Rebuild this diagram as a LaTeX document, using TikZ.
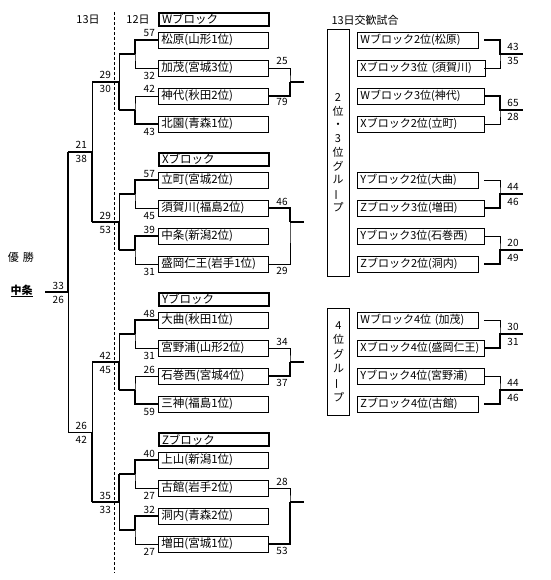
\documentclass[tikz,border=0pt]{standalone}
\usepackage{fontspec}
\setmainfont{Noto Sans CJK JP}
\usetikzlibrary{calc}
\tikzset{
  thinline/.style={line width=0.9pt},
  winline/.style={line width=2.8pt},
  dayline/.style={line width=0.8pt,dash pattern=on 3pt off 2pt},
  team/.style={draw,line width=0.9pt,anchor=west,minimum height=16pt,inner xsep=3pt,inner ysep=0pt,
    text width=104pt,align=left,font=\fontsize{11.5}{11.5}\selectfont},
  head/.style={team,line width=2pt,minimum height=13pt},
  matchbox/.style={team,text width=#1,font=\fontsize{11}{11}\selectfont},
  score/.style={anchor=base east,inner sep=0pt,font=\fontsize{10}{10}\selectfont},
  scoremid/.style={score,anchor=base},
  groupbox/.style={draw,line width=0.9pt,align=center,inner sep=0pt,minimum width=22pt},
}
\begin{document}
\begin{tikzpicture}[x=1pt,y=-1pt,font=\fontsize{11}{11}\selectfont]
  \useasboundingbox (0,0) rectangle (550,580);
  \node (d13) at (88,20) {13日}; % day 13
  \node (d12) at (138,20) {12日}; % day 12
  \node[anchor=west] (d13x) at (328,20) {13日交歓試合}; % exchange games
  \draw[dayline] (114,12) -- (114,573); % day separator
  \node (yusho) at (21,257) {優\hspace{4pt}勝}; % champion label
  \node (champ) at (21.5,291) {\bfseries\underline{中条}}; % champion
  % blocks
  \foreach \blk/\o/\lab in {w/0/W,x/140/X,y/280/Y,z/420/Z}
    \node[head] (\blk-h) at (158,\o+19.5) {\lab ブロック};
  \foreach \n/\yy/\txt in {w1/40/松原(山形1位),w2/68/加茂(宮城3位),w3/96/神代(秋田2位),w4/124/北園(青森1位),
      x1/180/立町(宮城2位),x2/208/須賀川(福島2位),x3/236/中条(新潟2位),x4/264/盛岡仁王(岩手1位),
      y1/320/大曲(秋田1位),y2/348/宮野浦(山形2位),y3/376/石巻西(宮城4位),y4/404/三神(福島1位),
      z1/460/上山(新潟1位),z2/488/古館(岩手2位),z3/516/洞内(青森2位),z4/544/増田(宮城1位)}
    \node[team] (\n) at (158,\yy) {\txt};
  % block wiring
  \foreach \blk/\o in {w/0,x/140,y/280,z/420} {
    \coordinate (\blk-a) at (135,\o+54);
    \coordinate (\blk-b) at (135,\o+110);
    \coordinate (\blk-A) at (119,\o+54);
    \coordinate (\blk-B) at (119,\o+110);
    \coordinate (\blk-c) at (119,\o+82);
    \coordinate (\blk-o) at (92,\o+82);
    \coordinate (\blk-r) at (290,\o+82);
    \coordinate (\blk-s) at (304,\o+82);
    \draw[thinline] (\blk1.west) -| (\blk-a) |- (\blk2.west);
    \draw[thinline] (\blk3.west) -| (\blk-b) |- (\blk4.west);
    \draw[thinline] (\blk-A) -- (\blk-B);
    \draw[winline] (\blk-a) -- (\blk-A);
    \draw[winline] (\blk-b) -- (\blk-B);
    \draw[winline] (\blk-c) -- (\blk-o);
    \draw[winline] (\blk-r) -- (\blk-s);
  }
  \draw[winline] (w1.west) -| (w-a); \draw[winline] (w4.west) -| (w-b); \draw[winline] (w-B) -- (w-c);
  \draw[winline] (x1.west) -| (x-a); \draw[winline] (x3.west) -| (x-b); \draw[winline] (x-B) -- (x-c);
  \draw[winline] (y1.west) -| (y-a); \draw[winline] (y4.west) -| (y-b); \draw[winline] (y-B) -- (y-c);
  \draw[winline] (z1.west) -| (z-a); \draw[winline] (z3.west) -| (z-b); \draw[winline] (z-A) -- (z-c);
  % 12th scores
  \foreach \o/\sa/\sb/\sc/\sd in {0/57/32/42/43,140/57/45/39/31,280/48/31/26/59,420/40/27/32/27} {
    \node[score] at (155,\o+37) {\sa};
    \node[score] at (155,\o+79.5) {\sb};
    \node[score] at (155,\o+93) {\sc};
    \node[score] at (155,\o+135.5) {\sd};
  }
  \foreach \o/\sa/\sb in {0/29/30,140/29/53,280/42/45,420/35/33} {
    \node[score] at (111,\o+79) {\sa};
    \node[score] at (111,\o+93) {\sb};
  }
  % second place games
  \draw[thinline] (w2.east) -| (w-r) |- (w3.east); \draw[winline] (w3.east) -| (w-r);
  \draw[thinline] (x2.east) -| (x-r) |- (x4.east); \draw[winline] (x2.east) -| (x-r);
  \draw[thinline] (y2.east) -| (y-r) |- (y3.east); \draw[winline] (y3.east) -| (y-r);
  \draw[thinline] (z2.east) -| (z-r) |- (z4.east); \draw[winline] (z4.east) -| (z-r);
  \node[scoremid] at (282,65) {25}; \node[scoremid] at (282,106) {79};
  \node[scoremid] at (282,205) {46}; \node[scoremid] at (282,274) {29};
  \node[scoremid] at (282,345) {34}; \node[scoremid] at (282,386) {37};
  \node[scoremid] at (282,485) {28}; \node[scoremid] at (282,554) {53};
  % 13th ladder
  \coordinate (wx) at (92,152);
  \coordinate (wx-o) at (68,152);
  \coordinate (yz) at (92,432);
  \coordinate (yz-o) at (68,432);
  \coordinate (fin) at (68,292);
  \coordinate (fin-o) at (45,292);
  \draw[thinline] (w-o) -- (x-o);
  \draw[winline] (x-o) -- (wx) -- (wx-o);
  \draw[thinline] (y-o) -- (z-o);
  \draw[winline] (z-o) -- (yz);
  \draw[thinline] (yz) -- (yz-o) -- (fin);
  \draw[winline] (wx-o) -- (fin) -- (fin-o);
  \node[score] at (87,149) {21}; \node[score] at (87,163) {38};
  \node[score] at (87,429) {26}; \node[score] at (87,443) {42};
  \node[score] at (64,289) {33}; \node[score] at (64,303) {26};
  % exchange games
  \node[groupbox,minimum height=247pt,font=\fontsize{11}{13.75}\selectfont] (g23) at (338,152.5)
    {2\\位\\・\\3\\位\\グ\\ル\\\rotatebox[origin=c]{90}{ー}\\プ};
  \node[groupbox,minimum height=107pt,font=\fontsize{11}{14.4}\selectfont] (g4) at (338.5,361.5)
    {4\\位\\グ\\ル\\\rotatebox[origin=c]{90}{ー}\\プ};
  \node[matchbox=115pt] (m1) at (357,40) {Wブロック2位(松原)};
  \node[matchbox=122pt] (m2) at (357,68) {Xブロック3位 (須賀川)};
  \node[matchbox=121pt] (m3) at (357,96) {Wブロック3位(神代)};
  \node[matchbox=121pt] (m4) at (357,124) {Xブロック2位(立町)};
  \node[matchbox=115pt] (m5) at (357,180) {Yブロック2位(大曲)};
  \node[matchbox=121pt] (m6) at (357,208) {Zブロック3位(増田)};
  \node[matchbox=121pt] (m7) at (357,236) {Yブロック3位(石巻西)};
  \node[matchbox=115pt] (m8) at (357,264) {Zブロック2位(洞内)};
  \node[matchbox=115pt] (n1) at (357,320) {Wブロック4位 (加茂)};
  \node[matchbox=121pt] (n2) at (357,348) {Xブロック4位(盛岡仁王)};
  \node[matchbox=121pt] (n3) at (357,376) {Yブロック4位(宮野浦)};
  \node[matchbox=115pt] (n4) at (357,404) {Zブロック4位(古館)};
  \coordinate (gx) at (484,0);
  \foreach \pa/\pb/\j/\wn/\sa/\sb in {m1/m2/54/m1/43/35,m3/m4/110/m3/65/28,m5/m6/194/m6/44/46,
      m7/m8/250/m8/20/49,n1/n2/334/n2/30/31,n3/n4/390/n4/44/46} {
    \coordinate (j-\pa) at (500,\j);
    \draw[thinline] (\pa.east -| gx) -| (j-\pa) |- (\pb.east -| gx);
    \draw[winline] (\wn.east -| gx) -| (j-\pa) -- ++(23,0);
    \node[scoremid] at (513,\j-3.5) {\sa};
    \node[scoremid] at (513,\j+11) {\sb};
  }
\end{tikzpicture}
\end{document}
